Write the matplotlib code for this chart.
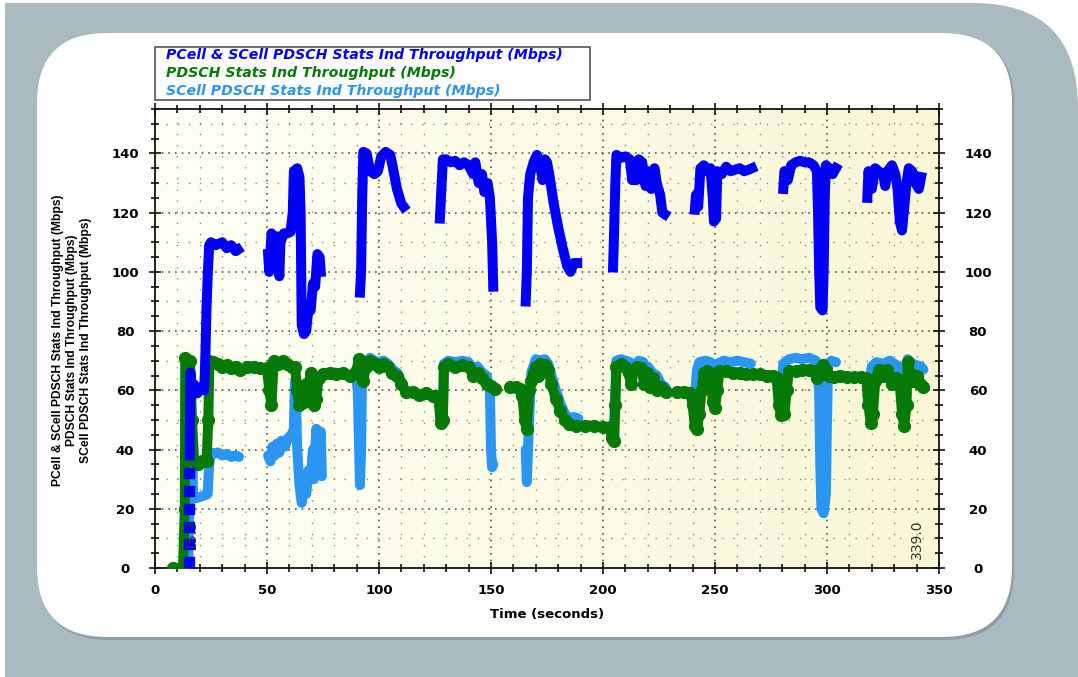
import numpy as np
import matplotlib
matplotlib.use("Agg")
import matplotlib.pyplot as plt
from matplotlib.patches import FancyBboxPatch, Rectangle
from matplotlib.transforms import IdentityTransform
from matplotlib.colors import LinearSegmentedColormap
from matplotlib.ticker import MultipleLocator

nan = np.nan

# PCell & SCell PDSCH Stats Ind Throughput (Mbps)  -- blue
blue_t = [15.5, 15.8, 16.5, 17.5, 19, 20.5, 22, 22.5, 23, 23.6, 24.2, 25, 27, 30, 32, 34, 36, 37, nan,
          50.5, 51, 52, 53.5, 54.5, 55.5, 56, 57.5, 59, 60.5, 61.5, 62, 63.5, 64.5, 65, 65.5, 66.5, 67.5,
          68.5, 69.5, 70.5, 71.5, 72.5, 73.5, 74, nan,
          91.5, 92, 92.5, 93, 94.5, 96, 98, 99.5, 101, 103, 105, 106, 108, 110, 111, nan,
          127.2, 128.5, 130, 132, 134, 136, 138, 140, 142, 143, 144.5, 146, 147, 148.5, 149.5, 150.5, 151, nan,
          165.5, 166, 166.5, 167.5, 169, 170.5, 172, 173, 174, 175, 176, 178, 180, 182, 184, 185.5, 187, 188.5, nan,
          204.5, 205, 205.5, 206, 208, 210, 212, 213, 215, 216, 217.5, 219, 220, 221.5, 223, 224, 225.5, 226.5,
          227.5, nan,
          241, 241.5, 242.5, 243.5, 245, 246.5, 248, 249, 249.5, 250.5, 251, 253, 255, 257, 259, 261, 263, 265,
          266.5, nan,
          280.5, 281, 282.5, 284, 286, 288, 290, 292, 294, 295.5, 296, 296.5, 297, 298, 298.5, 299, 299.5, 301,
          302.5, 304, nan,
          318, 318.5, 320, 321.5, 323, 325, 326, 327, 329, 330.5, 331.5, 332.5, 333.5, 334.5, 335.5, 336.5, 338,
          339.5, 341, 342]
blue_v = [38, 66, 58, 62, 59, 61, 60, 72, 88, 100, 109, 110, 109, 110, 108, 109, 107, 107.5, nan,
          106, 100, 113, 110, 112, 98.5, 110, 113, 113, 113.5, 120, 134, 135, 132, 120, 82, 79, 80,
          88, 87, 96, 95, 106, 105, 100, nan,
          93, 100, 125, 140.5, 140, 134, 133, 134, 139, 140.5, 139.5, 136, 128, 123, 122, nan,
          118, 138, 138, 137, 137.5, 136, 137, 136, 133, 137, 130, 133, 127, 130, 125, 110, 95, nan,
          90, 100, 125, 133, 137, 139.5, 136, 131, 138, 137, 133, 123, 115, 108, 102, 100, 103, 103, nan,
          101.5, 115, 130, 139.5, 138.5, 139, 138, 131, 131, 138, 137, 129, 134, 128, 135, 130, 126, 120,
          119.5, nan,
          121, 126, 122, 135, 136, 134, 135, 125, 117, 118, 134, 133, 135.5, 134, 134.5, 135, 134, 134.5,
          135, nan,
          128, 134, 131, 136, 137, 137.5, 137, 137, 136, 134, 120, 100, 88, 87, 100, 125, 136, 135,
          133, 135, nan,
          125, 134, 128, 135, 134, 133, 129, 134, 136, 133, 128, 117, 114, 122, 130, 135, 134,
          130, 128, 132]
# start of the blue trace, drawn as separate squares
blue_start_t = [15.2, 15.2, 15.2, 15.2, 15.2, 15.2]
blue_start_v = [2, 8, 14, 20, 26, 32]

# PDSCH Stats Ind Throughput (Mbps)  -- green
green_t = [8, 12.5, 13.3, 13.5, 14.5, 15.5, 16.5, 17.5, 19, 21, 23, 23.8, 24.3, 26, 28, 30, 32, 34, 36, 38, nan,
           41, 44, 47, 50, 51, 52, 53, 55, 57, 59, 61, 62.5, 63.5, 64.5, 65.5, 66.5, 67.5, 68.5, 69.5, 70.5,
           71, 72, 73, 75, 78, 81, 84, 87, 89, 90, 91, 92, 93, 94, 96, 98, 100, 102, 104, 106, 108, 110, 112,
           115, 118, 121, 124, 126.5, 127.5, 128.5, 129, 131, 134, 137, 140, 142, 144, 146, 148, 150, 152, nan,
           158.5, 161, 163, 164, 165, 166, 167, 168, 169, 170, 171, 172, 174, 175.5, 177, 179, 181, 183, 185,
           188, 192, 196, 200, 203, 204, 205, 205.5, 206, 208, 210, 211.5, 212.5, 213.5, 215, 217, 218.5,
           219.5, 221, 222.5, 224, 226, 228, nan,
           233, 236, 239, 240, 241, 242, 243, 244, 245, 246.5, 248, 249, 250, 251, 252, 255, 258, 261, 264,
           267, 270, 273, 276, 277.5, 278.5, 279.5, 281, 282, 283, 286, 289, 292, 294, 295.5, 296.5, 298,
           299.5, 301, 303, 306, 309, 312, 315, 317.5, 318.5, 319.5, 320.5, 321.5, 323, 325, 327, 329, 331,
           332.5, 333.5, 334.5, 335.5, 336, 337, 338.5, 340, 341.5, 343]
green_v = [0, 0, 20, 71, 65, 70, 50, 36, 35, 36, 36, 50, 70, 69.5, 69, 68, 68.5, 67.5, 68, 67, nan,
           68, 68, 67.5, 67.5, 60, 55, 70, 69, 70, 69, 68, 68, 60, 55, 58, 56, 62, 60, 66, 64,
           55, 57, 64, 65.5, 66, 65.5, 66, 65, 65.5, 67, 70.5, 68, 63, 68, 70, 69, 68, 69, 68, 66, 65, 62, 59.5,
           59.5, 58.5, 59, 58, 58, 49, 50, 68, 69, 68, 68.5, 68, 65, 66, 64, 62, 61.5, 60.5, nan,
           61, 61, 60.5, 58, 50, 47, 60, 63, 66, 68, 65, 69, 68.5, 67, 62, 57, 53, 50, 48.5,
           48, 48, 48, 47.5, 47.5, 44, 43, 55, 68, 69, 68, 66, 62, 67, 68, 67.5, 62,
           66, 61, 64, 60, 61, 59.5, nan,
           59.5, 59.5, 59, 55, 48, 47, 52, 60, 66, 66.5, 65, 56, 54, 60, 66.5, 66.5, 66, 66, 65.5,
           65.5, 65.5, 65, 65, 64, 55, 51.5, 52, 60, 66.5, 66.5, 67, 67, 66.5, 64, 67, 68.5,
           67, 65, 64.5, 65, 64.5, 64.5, 64.5, 64, 55, 49, 52, 63, 67, 65, 67, 62, 64,
           62, 52, 48, 55, 69.5, 66, 63, 65, 62, 61]

# SCell PDSCH Stats Ind Throughput (Mbps)  -- light blue
scell_t = [14.8, 15.3, 15.8, 16.5, 17, 18, 20, 22, 23.5, 24.2, 24.8, 26, 28, 30, 32, 34, 36, 37.5, nan,
           50.5, 51.5, 52.5, 53.5, 54.5, 55.5, 56.5, 58, 59.5, 61, 62, 62.5, 63, 63.5, 64.5, 65.5, 66.5, 67.5,
           68.5, 69.5, 70.5, 71, 72, 73, 74, 74.5, nan,
           89.5, 90.5, 91.5, 92, 92.5, 94, 96, 98, 100, 102, 104, 106, 108, 110, 111, nan,
           127.5, 128.5, 129, 131, 134, 137, 140, 142, 144, 146, 148, 149.5, 150, 150.5, 151, nan,
           165.5, 166, 167, 168, 170, 172, 174, 175.5, 177, 179, 181, 183, 185, 187, 189, nan,
           205, 206, 208, 210, 212, 213, 214, 216, 218, 219, 220, 222, 224, 226, 228, nan,
           241, 242, 243, 246, 248, 249, 250, 251, 254, 257, 260, 263, 266, nan,
           279.5, 280.5, 283, 286, 289, 292, 295, 296.5, 297, 297.5, 298.5, 299.5, 300, 300.5, 302, 304, nan,
           318, 319, 320, 322, 325, 328, 330, 332, 333, 334, 335, 336, 338, 340, 342, 343]
scell_v = [0, 20, 67, 45, 25, 23.5, 24, 24.5, 25, 35, 39, 38.5, 39, 38, 38.5, 37.5, 38, 37.5, nan,
           38, 36, 41, 38, 42, 39, 43, 41, 44, 45, 47, 63, 55, 40, 28, 22, 30, 25,
           33, 30, 40, 30, 47, 40, 46, 31, nan,
           66, 60, 28, 40, 68, 69, 71, 70, 69.5, 70, 69, 67, 66, 63, 61, nan,
           50, 51, 69, 70, 69.5, 70, 69.5, 67, 68, 66, 65, 60, 40, 34, 35, nan,
           40, 29, 50, 66, 70.5, 70, 70.5, 69, 65, 60, 55.5, 52, 50.5, 51, 50.5, nan,
           50, 70, 70.5, 70, 69.5, 63, 68, 70, 69.5, 63, 68, 66, 65, 62, 61, nan,
           58, 67, 69.5, 70, 69.5, 60, 59, 69, 70, 69.5, 70, 69.5, 69, nan,
           60, 69, 70.5, 71, 70.5, 71, 70, 60, 35, 20, 18.5, 25, 50, 69, 70, 69.5, nan,
           58, 63, 68, 69.5, 69, 70, 69, 68, 60, 55, 62, 70.5, 69, 68.5, 68, 67]

# marker labels drawn on the time axis
cursor_t = [15.3, 339.0]
cursor_labels = ["15.3", "339.0"]

legend_labels = ["PCell & SCell PDSCH Stats Ind Throughput (Mbps)",
                 "PDSCH Stats Ind Throughput (Mbps)",
                 "SCell PDSCH Stats Ind Throughput (Mbps)"]
c_blue = "#0000f5"
c_green = "#067a06"
c_scell = "#2a96f2"

W, H = 1078, 677
fig = plt.figure(figsize=(W / 100, H / 100), dpi=100)
fig.patch.set_facecolor("white")
px = IdentityTransform()

# page decoration: grey frame and white rounded card
fig.add_artist(Rectangle((5, 0), 700, H - 3, facecolor="#a9bbc0", edgecolor="none", transform=px, zorder=-5))
fig.add_artist(FancyBboxPatch((5, -300), W - 5, H - 3 + 300, boxstyle="round,pad=0,rounding_size=105",
                              facecolor="#a9bbc0", edgecolor="none", transform=px, zorder=-5))
fig.add_artist(FancyBboxPatch((39, H - 640), 975, 606, boxstyle="round,pad=0,rounding_size=70",
                              facecolor="#8d9fa4", edgecolor="none", transform=px, zorder=-4))
fig.add_artist(FancyBboxPatch((37, H - 637), 975, 604, boxstyle="round,pad=0,rounding_size=70",
                              facecolor="white", edgecolor="none", transform=px, zorder=-3))

ax = fig.add_axes([155 / W, 1 - 568 / H, (939 - 155) / W, (568 - 109) / H])
ax.set_xlim(0, 350)
ax.set_ylim(0, 155)

cmap = LinearSegmentedColormap.from_list("bg", ["#fffff6", "#f9f7d6"])
grad = np.linspace(0, 1, 256).reshape(1, -1)
ax.imshow(grad, extent=(0, 350, 0, 155), aspect="auto", cmap=cmap, zorder=0)

# grid
for x in np.arange(10, 350, 10):
    if x % 50:
        ax.axvline(x, color="#8a8a8a", lw=1.0, ls=(0, (1, 7)), zorder=1)
    else:
        ax.axvline(x, color="#555555", lw=1.2, ls=(0, (1, 3)), zorder=1)
for y in np.arange(10, 155, 10):
    if y % 20:
        ax.axhline(y, color="#8a8a8a", lw=1.0, ls=(0, (1, 7)), zorder=1)
    else:
        ax.axhline(y, color="#555555", lw=1.2, ls=(0, (1, 3)), zorder=1)

lw = 7.2
ax.plot(scell_t, scell_v, color=c_scell, lw=lw, solid_capstyle="round", solid_joinstyle="round", zorder=3)
ax.plot(green_t, green_v, color=c_green, lw=lw, solid_capstyle="round", solid_joinstyle="round",
        marker="o", ms=8.5, zorder=4)
ax.plot(blue_t, blue_v, color=c_blue, lw=lw, solid_capstyle="projecting", solid_joinstyle="round", zorder=5)
ax.plot(blue_start_t, blue_start_v, color=c_blue, ls="none", marker="s", ms=7, zorder=5)

for t, lab in zip(cursor_t, cursor_labels):
    ax.text(t + 1, 16.5, lab, rotation=90, ha="center", va="top", fontsize=10, color="#333333", zorder=10)

ax.xaxis.set_major_locator(MultipleLocator(50))
ax.xaxis.set_minor_locator(MultipleLocator(10))
ax.yaxis.set_major_locator(MultipleLocator(20))
ax.yaxis.set_minor_locator(MultipleLocator(5))
ax.set_yticks(np.arange(0, 141, 20))
for s in ax.spines.values():
    s.set_linewidth(1.3)
    s.set_color("#111111")
ax.tick_params(which="both", direction="inout", top=True, right=True, width=1.2, color="#111111")
ax.tick_params(which="major", length=9)
ax.tick_params(which="minor", length=6)
ax.tick_params(axis="x", which="major", pad=7, labelsize=9.5)
ax.tick_params(axis="y", which="major", pad=17, labelsize=9.5)
for lab in ax.get_xticklabels() + ax.get_yticklabels():
    lab.set_fontweight("bold")
for lab in ax.get_yticklabels():
    lab.set_horizontalalignment("center")

ax2 = ax.twinx()
ax2.set_ylim(ax.get_ylim())
ax2.set_yticks(np.arange(0, 141, 20))
ax2.yaxis.set_minor_locator(MultipleLocator(5))
ax2.tick_params(which="both", direction="inout", width=1.2, color="#111111")
ax2.tick_params(which="major", length=9, pad=23.5, labelsize=9.5)
ax2.tick_params(which="minor", length=6)
for lab in ax2.get_yticklabels():
    lab.set_fontweight("bold")
    lab.set_horizontalalignment("center")
for s in ax2.spines.values():
    s.set_visible(False)

ax.set_xlabel("Time (seconds)", fontsize=9.5, fontweight="bold", labelpad=8)

fig.text(72 / W, 1 - 340 / H, "\n".join(legend_labels), rotation=90, ha="center", va="center",
         multialignment="center", fontsize=8.7, fontweight="bold", family="Liberation Sans", linespacing=1.2)

# legend box above the plot
fig.add_artist(Rectangle((155, H - 100), 435, 53, facecolor="white", edgecolor="#555555", lw=1.2,
                         transform=px, zorder=2))
for i, (lab, c) in enumerate(zip(legend_labels, [c_blue, c_green, c_scell])):
    fig.text(166, H - 55 - 17.8 * i, lab, transform=px, ha="left", va="center", color=c, fontsize=10.2,
             fontweight="bold", fontstyle="italic", zorder=3)

fig.savefig("out.png", dpi=100)
